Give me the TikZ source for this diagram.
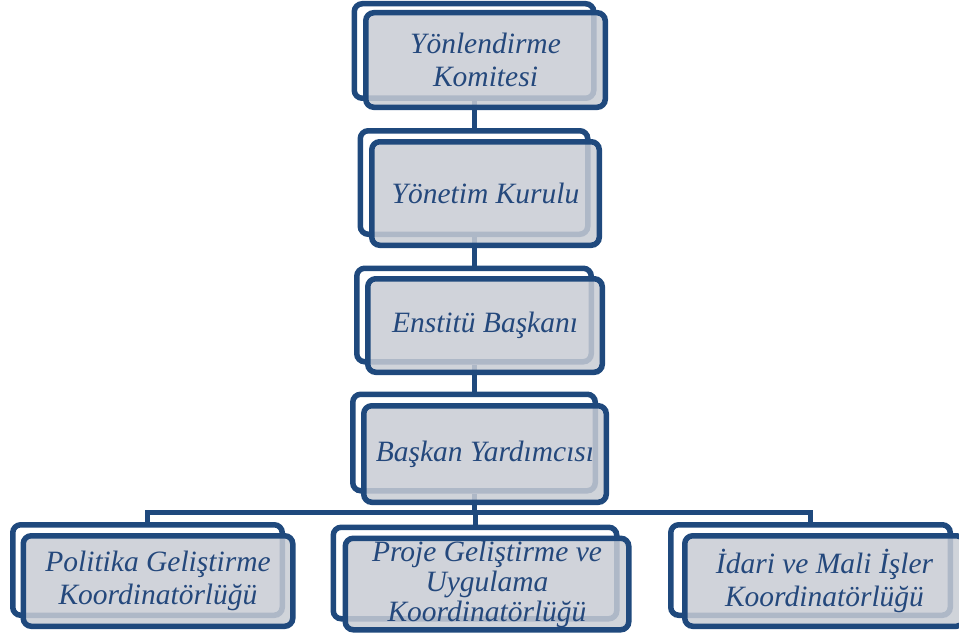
\documentclass[tikz,border=0pt]{standalone}
\usepackage{fontspec}
\setmainfont{Liberation Serif}

\definecolor{frameblue}{RGB}{31,73,125}
\definecolor{textblue}{RGB}{36,72,124}
\definecolor{boxfill}{RGB}{200,204,212}

\begin{document}
\begin{tikzpicture}[x=1pt, y=-1pt,
    back/.style={draw=frameblue, line width=5.5pt, rounded corners=8pt, fill=white, inner sep=0pt},
    front/.style={draw=frameblue, line width=5.5pt, rounded corners=8pt, fill=boxfill, fill opacity=0.85,
        text opacity=1, text=textblue, align=center, inner sep=0pt,
        font=\itshape\fontsize{29.5}{33}\selectfont},
    link/.style={draw=frameblue, line width=5pt}]

    \useasboundingbox (0,0) rectangle (959,634);

    % --- Back frames ---
    \node[back, minimum width=239.5pt, minimum height=94.5pt] (ykb) at (474,51) {};
    \node[back, minimum width=227.5pt, minimum height=103.5pt] (ykkb) at (474,182.5) {};
    \node[back, minimum width=234.5pt, minimum height=93.5pt] (ebb) at (474,315) {};
    \node[back, minimum width=242.5pt, minimum height=96.5pt] (byb) at (474,442.5) {};

    \node[back, minimum width=269.5pt, minimum height=90.5pt] (pgkb) at (147.5,570) {};
    \node[back, minimum width=283.5pt, minimum height=91.5pt] (pukb) at (475,573) {};
    \node[back, minimum width=279.5pt, minimum height=90.5pt] (imkb) at (810.5,570) {};

    % --- Connectors ---
    \coordinate (bar) at (474,512);
    \draw[link] (ykb.south) -- (ykkb.north);
    \draw[link] (ykkb.south) -- (ebb.north);
    \draw[link] (ebb.south) -- (byb.north);
    \draw[link] (byb.south) -- (bar);
    \draw[link] (pgkb.north) |- (bar) -| (imkb.north);
    \draw[link] (bar -| pukb.north) -- (pukb.north);

    % --- Front boxes ---
    \node[front, minimum width=239.5pt, minimum height=94.5pt] (yk) at (485.5,60) {Yönlendirme\\Komitesi};
    \node[front, minimum width=227.5pt, minimum height=103.5pt] (ykk) at (485.5,193.5) {Yönetim Kurulu};
    \node[front, minimum width=234.5pt, minimum height=93.5pt] (eb) at (485,325.5) {Enstitü Başkanı};
    \node[front, minimum width=242.5pt, minimum height=96.5pt] (by) at (485,454) {Başkan Yardımcısı};

    \node[front, minimum width=269.5pt, minimum height=90.5pt] (pgk) at (158,581) {Politika Geliştirme\\Koordinatörlüğü};
    \node[front, minimum width=283.5pt, minimum height=91.5pt, font=\itshape\fontsize{29.5}{30}\selectfont] (puk) at (487,584) {Proje Geliştirme ve\\Uygulama\\Koordinatörlüğü};
    \node[front, minimum width=279.5pt, minimum height=90.5pt] (imk) at (824.5,581) {İdari ve Mali İşler\\Koordinatörlüğü};

\end{tikzpicture}
\end{document}
